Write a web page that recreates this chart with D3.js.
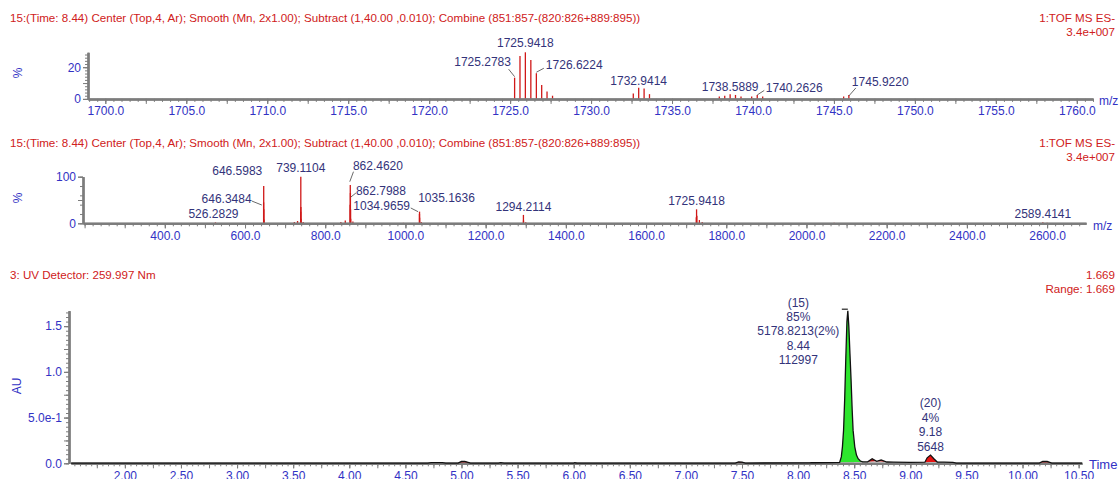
<!DOCTYPE html>
<html>
<head>
<meta charset="utf-8">
<script src="https://cdn.jsdelivr.net/npm/d3@7"></script>
<style>
  body { margin: 0; background: #fff; }
  svg { display: block; font-family: "Liberation Sans", Arial, sans-serif; }
</style>
</head>
<body>
<svg id="chart" width="1120" height="479"></svg>
<script>
// ---- spectrum 1 : zoom window 1699-1761 (% of base peak)
const zoomMz  = [1725.278, 1725.610, 1725.942, 1726.280, 1726.622, 1726.950, 1727.280, 1727.620,
                 1732.608, 1732.941, 1733.275, 1733.608,
                 1737.920, 1738.255, 1738.589, 1738.920, 1739.260, 1739.920, 1740.263, 1740.600,
                 1745.600, 1745.922];
const zoomInt = [13.4, 27.0, 29.4, 24.6, 16.2, 8.8, 4.6, 2.0,
                 3.4, 7.0, 6.5, 3.0,
                 1.5, 2.0, 3.0, 2.5, 1.5, 1.5, 2.5, 1.5,
                 1.5, 2.5];
const zoomLabelMz   = [1725.278, 1725.942, 1726.622, 1732.941, 1738.589, 1740.263, 1745.922];
const zoomLabelText = ["1725.2783", "1725.9418", "1726.6224", "1732.9414", "1738.5889", "1740.2626", "1745.9220"];
const zoomTicks = [1700, 1705, 1710, 1715, 1720, 1725, 1730, 1735, 1740, 1745, 1750, 1755, 1760];

// ---- spectrum 2 : full range
const fullMz  = [526.28, 646.35, 646.60, 646.85, 647.10, 723.0, 731.0, 738.86, 739.11, 739.36, 739.61, 745.0,
                 839.0, 850.0, 862.13, 862.46, 862.80, 863.13, 863.47, 869.0, 995.0,
                 1034.97, 1035.16, 1035.36, 1039.5, 1294.21, 1294.41, 1300.0,
                 1725.28, 1725.94, 1726.62, 1732.94, 1740.0, 2069.0, 2589.41, 2600.0];
const fullInt = [2.0, 45, 80, 30, 8, 3, 5, 25, 100, 35, 10, 3,
                 3, 6, 40, 82, 65, 30, 10, 4, 1,
                 20, 25, 12, 3, 18, 6, 2,
                 13, 30, 16, 7, 3, 1, 2.5, 1.2];
const fullLabelMz   = [526.28, 646.35, 646.60, 739.11, 862.46, 862.80, 1034.97, 1035.16, 1294.21, 1725.94, 2589.41];
const fullLabelText = ["526.2829", "646.3484", "646.5983", "739.1104", "862.4620", "862.7988",
                       "1034.9659", "1035.1636", "1294.2114", "1725.9418", "2589.4141"];
const fullTicks = [400, 600, 800, 1000, 1200, 1400, 1600, 1800, 2000, 2200, 2400, 2600];

// ---- UV chromatogram 259.997 nm (AU)
const uvTime = [1.52, 4.70, 4.73, 4.83, 4.86, 4.97, 5.00, 5.03, 5.08, 5.33, 5.35, 5.38, 6.00, 6.01, 6.03,
                7.44, 7.47, 7.50, 7.53, 8.10, 8.12, 8.15, 8.30, 8.37,
                8.385, 8.395, 8.405, 8.415, 8.425, 8.435, 8.443, 8.452, 8.462, 8.472, 8.482, 8.490,
                8.505, 8.520, 8.535, 8.555, 8.575, 8.60, 8.62, 8.66, 8.70, 8.74, 8.79, 8.85, 9.00,
                9.13, 9.15, 9.18, 9.21, 9.24, 9.30, 9.38, 9.41, 10.15, 10.18, 10.22, 10.26, 10.53];
const uvAU   = [0.002, 0.002, 0.007, 0.007, 0.002, 0.002, 0.020, 0.022, 0.003, 0.002, 0.007, 0.002, 0.002, 0.006, 0.002,
                0.003, 0.015, 0.013, 0.003, 0.004, 0.008, 0.006, 0.008, 0.010,
                0.07, 0.18, 0.36, 0.70, 1.15, 1.55, 1.669, 1.50, 1.20, 0.91, 0.58, 0.36,
                0.18, 0.09, 0.05, 0.025, 0.016, 0.015, 0.016, 0.050, 0.022, 0.036, 0.014, 0.012, 0.011,
                0.012, 0.060, 0.090, 0.050, 0.014, 0.012, 0.010, 0.003, 0.002, 0.022, 0.020, 0.003, 0.002];
const peakStart = [4.97, 7.44, 8.37, 8.62, 8.70, 9.13, 10.15];
const peakEnd   = [5.08, 7.53, 8.60, 8.70, 8.79, 9.24, 10.26];
const peak15Text = ["(15)", "85%", "5178.8213(2%)", "8.44", "112997"];
const peak20Text = ["(20)", "4%", "9.18", "5648"];
const uvTickValues = [0, 0.5, 1.0, 1.5];
const uvTickLabels = ["0.0", "5.0e-1", "1.0", "1.5"];
const timeTicks = [2.0, 2.5, 3.0, 3.5, 4.0, 4.5, 5.0, 5.5, 6.0, 6.5, 7.0, 7.5, 8.0, 8.5, 9.0, 9.5, 10.0, 10.5];

const RED = "#cf2020", BLUE = "#3232c4", NAVY = "#33337a", AXIS = "#7c7c7c", BAR = "#d01818";

const svg = d3.select("#chart");

function steps(domain, step) {
  const a = Math.ceil(domain[0] / step - 1e-6), b = Math.floor(domain[1] / step + 1e-6);
  return d3.range(a, b + 1).map(i => +(i * step).toFixed(4));
}

function styleAxis(g) {
  g.select(".domain").attr("stroke", AXIS).attr("stroke-width", 2);
  g.selectAll(".tick line").attr("stroke", AXIS);
  g.selectAll("text").attr("fill", BLUE).style("font-size", "12px").style("font-family", "Liberation Sans, Arial, sans-serif");
}

function xAxes(x, yPos, minor, mid, major, fmt) {
  svg.append("g").attr("transform", `translate(0,${yPos})`)
    .call(d3.axisBottom(x).tickValues(steps(x.domain(), minor)).tickSize(3).tickSizeOuter(0).tickFormat(""))
    .call(styleAxis);
  svg.append("g").attr("transform", `translate(0,${yPos})`)
    .call(d3.axisBottom(x).tickValues(steps(x.domain(), mid)).tickSize(5).tickSizeOuter(0).tickFormat(""))
    .call(styleAxis);
  svg.append("g").attr("transform", `translate(0,${yPos})`)
    .call(d3.axisBottom(x).tickValues(major).tickSize(5).tickSizeOuter(0).tickPadding(3).tickFormat(fmt))
    .call(styleAxis);
}

function yAxes(y, xPos, minor, mid, major, fmt) {
  svg.append("g").attr("transform", `translate(${xPos},0)`)
    .call(d3.axisLeft(y).tickValues(steps(y.domain(), minor)).tickSize(3).tickSizeOuter(0).tickFormat(""))
    .call(styleAxis);
  svg.append("g").attr("transform", `translate(${xPos},0)`)
    .call(d3.axisLeft(y).tickValues(steps(y.domain(), mid)).tickSize(5).tickSizeOuter(0).tickFormat(""))
    .call(styleAxis);
  svg.append("g").attr("transform", `translate(${xPos},0)`)
    .call(d3.axisLeft(y).tickValues(major).tickSize(5).tickSizeOuter(0).tickPadding(2).tickFormat(fmt))
    .call(styleAxis);
}

function header(yTop, left, right1, right2) {
  svg.append("text").attr("x", 10).attr("y", yTop).attr("fill", RED).style("font-size", "11.6px").text(left);
  svg.append("text").attr("x", 1115).attr("y", yTop).attr("text-anchor", "end").attr("fill", RED).style("font-size", "11.6px").text(right1);
  svg.append("text").attr("x", 1115).attr("y", yTop + 14).attr("text-anchor", "end").attr("fill", RED).style("font-size", "11.6px").text(right2);
}

function yTitle(txt, cx, cy) {
  svg.append("text").attr("transform", `translate(${cx},${cy}) rotate(-90)`)
    .attr("text-anchor", "middle").attr("dominant-baseline", "middle")
    .attr("fill", BLUE).style("font-size", "12px").text(txt);
}

// label placement (dx, dy from stick top, anchor, leader)
function peakLabels(x, y, mzArr, intArr, labMz, labText, place) {
  labMz.forEach((m, i) => {
    const k = mzArr.indexOf(m);
    const px = x(m), py = y(intArr[k]);
    const p = place[i];
    svg.append("text").attr("x", px + p[0]).attr("y", py + p[1])
      .attr("text-anchor", p[2]).attr("dominant-baseline", "middle")
      .attr("fill", NAVY).style("font-size", "12px").text(labText[i]);
    if (p[3]) {
      svg.append("line").attr("x1", px + p[3][0]).attr("y1", py + p[3][1])
        .attr("x2", px + p[3][2]).attr("y2", py + p[3][3])
        .attr("stroke", "#444").attr("stroke-width", 0.8);
    }
  });
}

// ================= panel 1
header(22, "15:(Time: 8.44) Center (Top,4, Ar); Smooth (Mn, 2x1.00); Subtract (1,40.00 ,0.010); Combine (851:857-(820:826+889:895))",
  "1:TOF MS ES-", "3.4e+007");
const x1 = d3.scaleLinear([1698.93, 1761], [88, 1093]);
const y1 = d3.scaleLinear([0, 29.4], [98.9, 52.3]);
svg.append("g").selectAll("line").data(zoomMz).join("line")
  .attr("x1", d => x1(d)).attr("x2", d => x1(d))
  .attr("y1", y1(0)).attr("y2", (d, i) => y1(zoomInt[i]))
  .attr("stroke", BAR).attr("stroke-width", 1.3);
xAxes(x1, y1(0), 0.5, 2.5, zoomTicks, d => d.toFixed(1));
yAxes(y1, 88, 2, 10, [0, 20], d3.format("d"));
yTitle("%", 19, 73);
svg.append("text").attr("x", 1099).attr("y", 105).attr("fill", BLUE).style("font-size", "12px").text("m/z");
peakLabels(x1, y1, zoomMz, zoomInt, zoomLabelMz, zoomLabelText, [
  [-32, -14.5, "middle", [-6, -8.5, 0, -1]],
  [0, -8, "middle"],
  [9.5, -7.3, "start", [0, -1, 7.5, -5]],
  [0, -6.2, "middle"],
  [0, -6, "middle"],
  [8.6, -5.7, "start", [0, 0, 7, -4.5]],
  [3, -12.5, "start", [0, 1, 7, -7]]
]);

// ================= panel 2
header(147, "15:(Time: 8.44) Center (Top,4, Ar); Smooth (Mn, 2x1.00); Subtract (1,40.00 ,0.010); Combine (851:857-(820:826+889:895))",
  "1:TOF MS ES-", "3.4e+007");
const x2 = d3.scaleLinear([196, 2697], [83, 1086]);
const y2 = d3.scaleLinear([0, 100], [223.3, 176.7]);
svg.append("g").selectAll("line").data(fullMz).join("line")
  .attr("x1", d => x2(d)).attr("x2", d => x2(d))
  .attr("y1", y2(0)).attr("y2", (d, i) => y2(fullInt[i]))
  .attr("stroke", BAR).attr("stroke-width", 1.3);
xAxes(x2, y2(0), 20, 100, fullTicks, d => d.toFixed(1));
yAxes(y2, 83, 20, 50, [0, 100], d3.format("d"));
yTitle("%", 19, 198);
svg.append("text").attr("x", 1093).attr("y", 230).attr("fill", BLUE).style("font-size", "12px").text("m/z");
peakLabels(x2, y2, fullMz, fullInt, fullLabelMz, fullLabelText, [
  [-2, -7.4, "middle"],
  [-12, -2.3, "end", [-11.8, -1.3, -1.8, 2.7]],
  [-1.4, -14.3, "end"],
  [0, -7.4, "middle"],
  [2.6, -18.4, "start", [-0.5, -3.4, 3.2, -13.4]],
  [5.5, -1.3, "start", [0.5, 4, 5.5, 0]],
  [-9.4, -7.3, "end", [-8.7, -6, -1.4, -2.3]],
  [27, -13.3, "middle"],
  [0, -6.6, "middle"],
  [0, -7, "middle"],
  [0, -7.4, "middle"]
]);

// ================= panel 3 (UV)
svg.append("text").attr("x", 10).attr("y", 279).attr("fill", RED).style("font-size", "11.6px").text("3: UV Detector: 259.997 Nm");
svg.append("text").attr("x", 1115).attr("y", 279).attr("text-anchor", "end").attr("fill", RED).style("font-size", "11.6px").text("1.669");
svg.append("text").attr("x", 1115).attr("y", 293).attr("text-anchor", "end").attr("fill", RED).style("font-size", "11.6px").text("Range: 1.669");

const x3 = d3.scaleLinear([1.52, 10.53], [71, 1082]);
const y3 = d3.scaleLinear([0, 1.669], [463.3, 310.7]);
const uv = uvTime.map((t, i) => [t, uvAU[i]]);

// integrated peak fills (area between trace and the drop baseline)
const peakFill = (i) => i === 2 ? "#2ee62e" : (i === 5 ? "#e81414" : "#a80f0f");
peakStart.forEach((s, i) => {
  const e = peakEnd[i];
  const pts = uv.filter(d => d[0] >= s - 1e-6 && d[0] <= e + 1e-6);
  const a0 = pts[0], a1 = pts[pts.length - 1];
  const base = t => a0[1] + (a1[1] - a0[1]) * (t - a0[0]) / (a1[0] - a0[0]);
  svg.append("path").datum(pts)
    .attr("d", d3.area().x(d => x3(d[0])).y0(d => y3(base(d[0]))).y1(d => y3(d[1])))
    .attr("fill", peakFill(i)).attr("stroke", "none");
});

xAxes(x3, 463.3, 0.05, 0.25, timeTicks, d => d.toFixed(2));
yAxes(y3, 69, 0.05, 0.25, uvTickValues, (d, i) => uvTickLabels[uvTickValues.indexOf(d)]);

svg.append("path").datum(uv)
  .attr("d", d3.line().x(d => x3(d[0])).y(d => y3(d[1])))
  .attr("fill", "none").attr("stroke", "#111").attr("stroke-width", 1.3);

yTitle("AU", 18, 386);
svg.append("text").attr("x", 1089).attr("y", 469).attr("fill", BLUE).style("font-size", "13px").text("Time");

// apex marker of the main peak
const apexT = 8.443, apexA = 1.669;
svg.append("line").attr("x1", x3(apexT) - 6).attr("x2", x3(apexT)).attr("y1", y3(apexA) - 1.5).attr("y2", y3(apexA) - 1.5)
  .attr("stroke", "#222").attr("stroke-width", 1.2);

function stackLabel(lines, t, a, dx, dyLast) {
  const n = lines.length;
  lines.forEach((s, j) => {
    svg.append("text").attr("x", x3(t) + dx).attr("y", y3(a) + dyLast - (n - 1 - j) * 14.4)
      .attr("text-anchor", "middle").attr("dominant-baseline", "middle")
      .attr("fill", NAVY).style("font-size", "12px").text(s);
  });
}
stackLabel(peak15Text, 8.443, 1.669, -49.5, 50.3);
stackLabel(peak20Text, 9.18, 0.090, 0, -7.7);
</script>
</body>
</html>
